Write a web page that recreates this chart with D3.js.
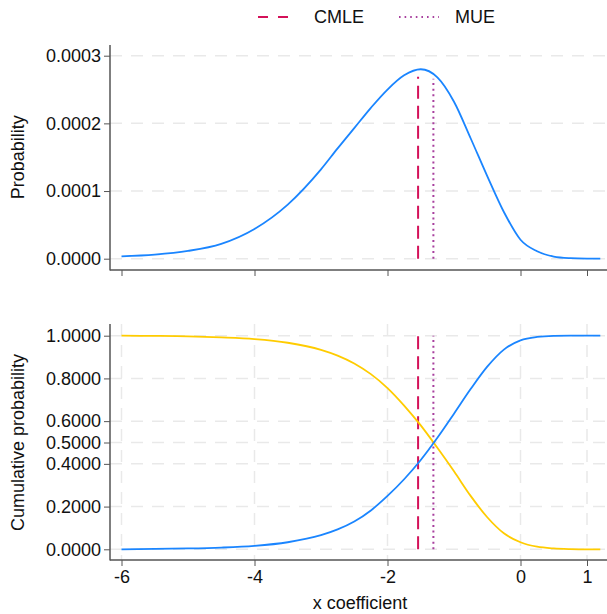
<!DOCTYPE html>
<html>
<head>
<meta charset="utf-8">
<script src="https://cdn.jsdelivr.net/npm/d3@7"></script>
<style>
  html, body { margin: 0; padding: 0; background: #fff; }
  svg { display: block; font-family: "Liberation Sans", Arial, sans-serif; }
</style>
</head>
<body>
<svg id="chart" width="607" height="614"></svg>
<script>
// ---- data ----
const xGrid = [-6, -5.5, -5, -4.5, -4, -3.5, -3, -2.75, -2.5, -2.25, -2, -1.75, -1.5, -1.25, -1, -0.75, -0.5, -0.25, 0, 0.25, 0.5, 0.75, 1, 1.2];
const probability = [3.5e-6, 6e-6, 1.15e-5, 2.2e-5, 4.4e-5, 8.0e-5, 1.32e-4, 1.63e-4, 1.93e-4, 2.23e-4, 2.5e-4, 2.71e-4, 2.8e-4, 2.68e-4, 2.32e-4, 1.78e-4, 1.22e-4, 6.9e-5, 2.8e-5, 1.1e-5, 3.2e-6, 8e-7, 1e-7, 0];
const cumLower = [0.000, 0.002, 0.004, 0.008, 0.016, 0.033, 0.066, 0.093, 0.130, 0.182, 0.250, 0.328, 0.418, 0.522, 0.635, 0.750, 0.855, 0.935, 0.978, 0.994, 0.999, 1.0, 1.0, 1.0];
const cumUpper = [1.000, 0.999, 0.997, 0.992, 0.984, 0.967, 0.934, 0.907, 0.870, 0.820, 0.755, 0.673, 0.580, 0.475, 0.365, 0.250, 0.150, 0.075, 0.033, 0.012, 0.004, 0.001, 0.0, 0.0];
const estimates = ["CMLE", "MUE"];
const estimateX = [-1.54, -1.31];
const estimateTopProb = [2.69e-4, 2.66e-4];
const estimateTopCum = [1.0, 1.0];
const xTicks = [-6, -4, -2, 0, 1];
const probTicks = [0, 0.0001, 0.0002, 0.0003];
const cumTicks = [0, 0.2, 0.4, 0.5, 0.6, 0.8, 1.0];
const xTitle = "x coefficient";
const probTitle = "Probability";
const cumTitle = "Cumulative probability";

// ---- styling ----
const blue = "#1a85ff", yellow = "#ffcc00", red = "#d41159", purple = "#a8409e";
const axisColor = "#555", gridColor = "#e9e9e9";
const fs = 18;
const estStyle = [
  { color: red, dash: "13,7", width: 2 },
  { color: purple, dash: "2,3.6", width: 2 }
];
const fmtX = d => String(d).replace("\u2212", "-");

const svg = d3.select("#chart");
const plotL = 110, plotR = 607;
const x = d3.scaleLinear().domain([-6, 0]).range([121.5, 520.5]);

const panels = [
  { top: 45, bottom: 270, y: d3.scaleLinear().domain([0, 0.0003]).range([258.7, 55.7]),
    ticks: probTicks, fmt: d3.format(".4f"), title: probTitle, vgrid: false, labels: false,
    series: [{ v: probability, c: blue }], estTop: estimateTopProb },
  { top: 324, bottom: 560, y: d3.scaleLinear().domain([0, 1]).range([549.3, 335.7]),
    ticks: cumTicks, fmt: d3.format(".4f"), title: cumTitle, vgrid: true, labels: true,
    series: [{ v: cumUpper, c: yellow }, { v: cumLower, c: blue }], estTop: estimateTopCum }
];

panels.forEach(p => {
  const g = svg.append("g");
  // grid
  g.selectAll(".hg").data(p.ticks).join("line")
    .attr("x1", plotL).attr("x2", plotR)
    .attr("y1", d => p.y(d)).attr("y2", d => p.y(d))
    .attr("stroke", gridColor).attr("stroke-width", 1.5).attr("stroke-dasharray", "12,9");
  if (p.vgrid) {
    g.selectAll(".vg").data(xTicks).join("line")
      .attr("x1", d => x(d)).attr("x2", d => x(d))
      .attr("y1", p.top).attr("y2", p.bottom)
      .attr("stroke", gridColor).attr("stroke-width", 1.5).attr("stroke-dasharray", "12,9");
  }
  // estimate lines
  estimateX.forEach((ex, i) => {
    g.append("line")
      .attr("x1", x(ex)).attr("x2", x(ex))
      .attr("y1", p.y(0)).attr("y2", p.y(p.estTop[i]))
      .attr("stroke", estStyle[i].color).attr("stroke-width", estStyle[i].width)
      .attr("stroke-dasharray", estStyle[i].dash);
  });
  // series
  const line = d3.line().x((d, i) => x(xGrid[i])).y(d => p.y(d)).curve(d3.curveMonotoneX);
  p.series.forEach(s => {
    g.append("path").datum(s.v).attr("d", line)
      .attr("fill", "none").attr("stroke", s.c).attr("stroke-width", 1.8);
  });
  // y axis
  const ya = d3.axisLeft(p.y).tickValues(p.ticks).tickFormat(p.fmt).tickSize(6).tickPadding(3);
  const yg = g.append("g").attr("transform", `translate(${plotL},0)`).call(ya);
  yg.select(".domain").remove();
  yg.selectAll("line").attr("stroke", axisColor);
  yg.selectAll("text").attr("font-size", fs).attr("fill", "#111").style("font-family", "Liberation Sans, Arial, sans-serif");
  g.append("line").attr("x1", plotL).attr("x2", plotL).attr("y1", p.top).attr("y2", p.bottom + 0.5)
    .attr("stroke", axisColor).attr("stroke-width", 1.5);
  // x axis
  const xa = d3.axisBottom(x).tickValues(xTicks).tickFormat(p.labels ? fmtX : "").tickSize(6).tickPadding(4);
  const xg = g.append("g").attr("transform", `translate(0,${p.bottom})`).call(xa);
  xg.select(".domain").remove();
  xg.selectAll("line").attr("stroke", axisColor);
  xg.selectAll("text").attr("font-size", fs).attr("fill", "#111").style("font-family", "Liberation Sans, Arial, sans-serif");
  g.append("line").attr("x1", plotL).attr("x2", plotR).attr("y1", p.bottom).attr("y2", p.bottom)
    .attr("stroke", axisColor).attr("stroke-width", 1.5);
  // y title
  g.append("text")
    .attr("transform", `translate(24,${(p.y(0) + p.y(p.ticks[p.ticks.length - 1])) / 2}) rotate(-90)`)
    .attr("text-anchor", "middle").attr("font-size", fs).attr("fill", "#111")
    .text(p.title);
});

// x title
svg.append("text").attr("x", 360).attr("y", 609).attr("text-anchor", "middle")
  .attr("font-size", fs).attr("fill", "#111").text(xTitle);

// legend
const legendX = [258, 399];
estimates.forEach((name, i) => {
  svg.append("line").attr("x1", legendX[i]).attr("x2", legendX[i] + 40)
    .attr("y1", 17).attr("y2", 17)
    .attr("stroke", estStyle[i].color).attr("stroke-width", 2)
    .attr("stroke-dasharray", i === 0 ? "10,10" : "1.6,4");
  svg.append("text").attr("x", legendX[i] + 56).attr("y", 23)
    .attr("font-size", fs).attr("fill", "#111").text(name);
});
</script>
</body>
</html>
